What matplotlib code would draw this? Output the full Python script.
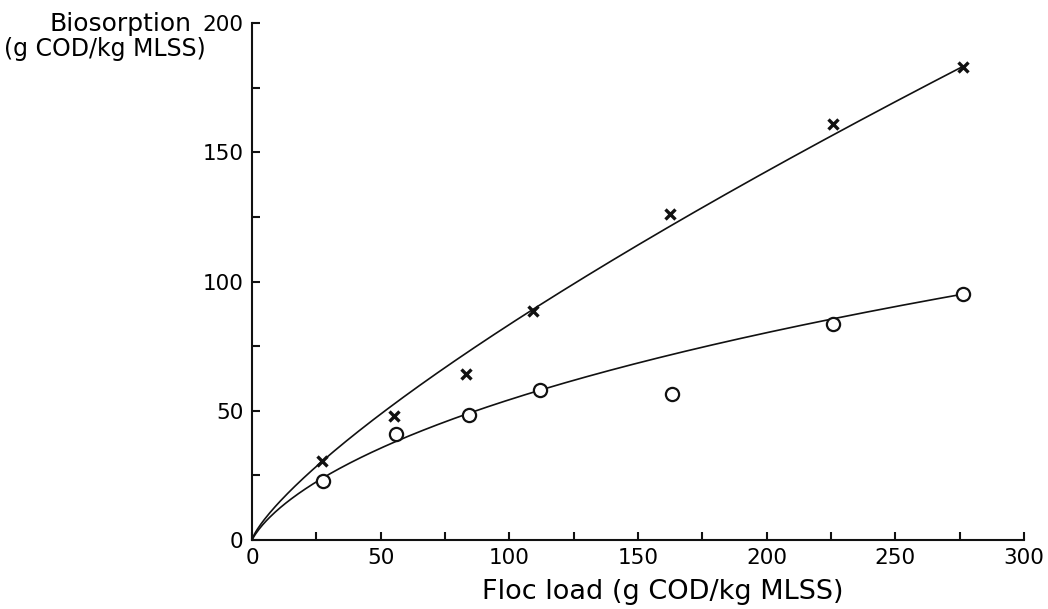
import numpy as np
import matplotlib
matplotlib.use("Agg")
import matplotlib.pyplot as plt
from matplotlib.ticker import MultipleLocator

plt.rcParams['font.family'] = ['DejaVu Sans']

# measured points
floc_load_x = [27.3, 55.2, 83.2, 109.2, 162.5, 225.8, 276.3]
biosorption_x = [30.5, 48.0, 64.2, 88.6, 126.0, 161.0, 183.0]

floc_load_o = [27.6, 56.0, 84.3, 112.0, 163.2, 225.8, 276.3]
biosorption_o = [22.8, 41.0, 48.4, 58.0, 56.5, 83.6, 95.2]

# fitted curves
upper_a, upper_b = 2.349, 0.775
lower_p = [0.553, 0.907, -0.0347]   # ln y = p0 + p1 ln x + p2 (ln x)^2


def upper_curve(x):
    return upper_a * x ** upper_b


def lower_curve(x):
    u = np.log(x)
    return np.exp(lower_p[0] + lower_p[1] * u + lower_p[2] * u ** 2)


fig = plt.figure(figsize=(10.48, 6.09), dpi=100)
ax = fig.add_axes([252 / 1048, 1 - 540 / 609, (1024 - 252) / 1048, (540 - 23) / 609])

xs = np.linspace(0.01, 276.3, 400)
ax.plot(np.r_[0, xs], np.r_[0, upper_curve(xs)], color="#111111", lw=1.2)
ax.plot(np.r_[0, xs], np.r_[0, lower_curve(xs)], color="#111111", lw=1.2)

ax.plot(floc_load_x, biosorption_x, linestyle="none", marker="x", ms=7.5,
        mew=2.4, color="#111111")
ax.plot(floc_load_o, biosorption_o, linestyle="none", marker="o", ms=9.5,
        mew=1.6, mfc="white", mec="#111111")

ax.set_xlim(0, 300)
ax.set_ylim(0, 200)
ax.spines["top"].set_visible(False)
ax.spines["right"].set_visible(False)
for s in ("left", "bottom"):
    ax.spines[s].set_linewidth(1.5)
    ax.spines[s].set_color("#111111")

ax.xaxis.set_major_locator(MultipleLocator(50))
ax.xaxis.set_minor_locator(MultipleLocator(25))
ax.yaxis.set_major_locator(MultipleLocator(50))
ax.yaxis.set_minor_locator(MultipleLocator(25))
ax.tick_params(which="both", direction="in", length=6, width=1.5,
               color="#111111", labelsize=15.5, pad=6)
ax.patch.set_alpha(0)

fig.text(663 / 1048, 1 - 592 / 609, "Floc load (g COD/kg MLSS)",
         ha="center", va="center", fontsize=19.5)
fig.text(121 / 1048, 1 - 24 / 609, "Biosorption", ha="center", va="center",
         fontsize=18)
fig.text(105 / 1048, 1 - 49 / 609, "(g COD/kg MLSS)", ha="center",
         va="center", fontsize=17)

fig.savefig("out.png", dpi=100)
